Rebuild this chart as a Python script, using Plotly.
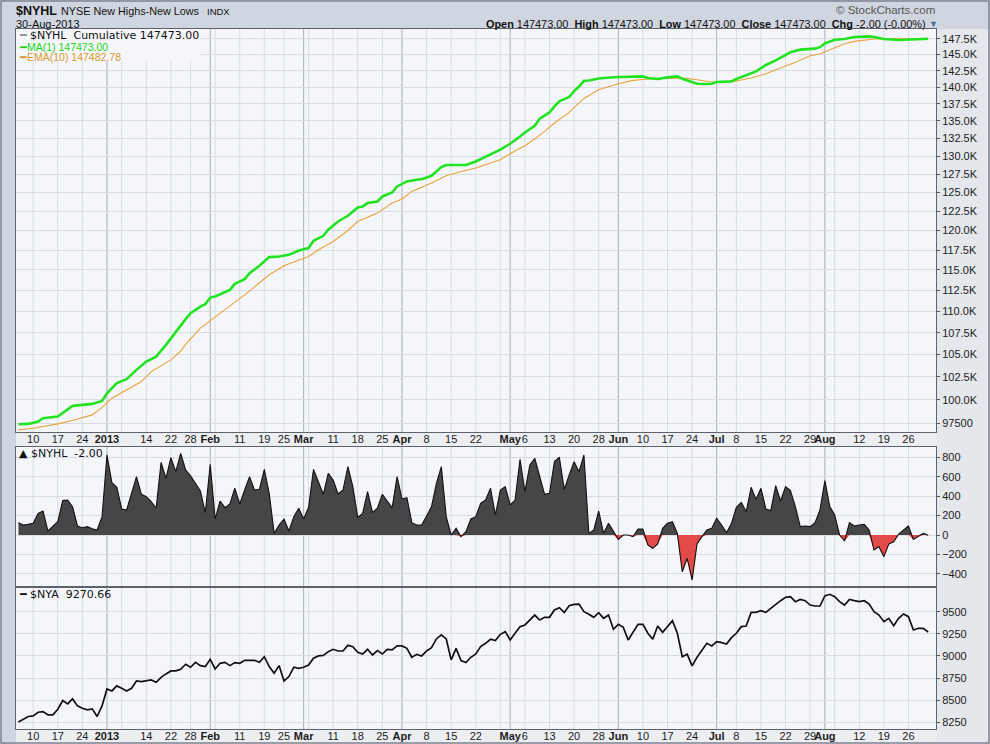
import pandas as pd
import plotly.graph_objects as go
from plotly.subplots import make_subplots

# trading days shown on the chart (NYSE holidays removed)
holidays = ["2012-12-25", "2013-01-01", "2013-01-21", "2013-02-18",
            "2013-03-29", "2013-05-27", "2013-07-04"]
days = [d.strftime("%Y-%m-%d") for d in pd.bdate_range("2012-12-05", "2013-08-30")
        if d.strftime("%Y-%m-%d") not in holidays]

# panel 2: daily new highs - new lows
nyhl_daily = [
    127, 103, 110, 120, 223, 247, 41, 86, 137, 354, 360, 292, 93, 75, 86, 65, 51, 189,
    824, 539, 491, 268, 257, 429, 600, 419, 395, 343, 275, 748, 584, 797, 652, 841, 670, 608, 532, 453, 230,
    728, 165, 350, 281, 319, 481, 319, 463, 600, 463, 470, 676, 429, 17, 103, 165, 41, 189, 275,
    165, 285, 676, 549, 419, 635, 566, 422, 463, 704, 498, 182, 223, 446, 233, 275, 419, 350, 281, 600,
    371, 384, 127, 103, 103, 196, 292, 532, 704, 189, 0, 69, -17, 34, 165, 189, 326, 360, 481, 206, 463, 498,
    309, 360, 779, 446, 721, 790, 601, 419, 429, 755, 800, 470, 618, 755, 652, 824, 17, 51, 247, 17, 120, 34,
    -45, 0, 0, -17, 62, 62, -103, -137, -93, 69, 120, 137, 17, -378, -240, -463, -93, -17, 51, 69,
    172, 103, 24, 120, 285, 336, 240, 491, 367, 481, 268, 251, 508, 350, 498, 457, 292, 86, 93, 86, 127, 257,
    560, 292, 206, 0, -62, 127, 93, 103, 110, 51, -154, -120, -223, -93, -69, 10, 51, 93, -45, -17, 17, -2,
]

# panel 3: NYSE Composite close
nya_close = [
    8255, 8286, 8316, 8323, 8364, 8372, 8334, 8334, 8398, 8496, 8458, 8515, 8436, 8410, 8391, 8402, 8316, 8436,
    8628, 8605, 8662, 8635, 8605, 8635, 8718, 8710, 8722, 8729, 8703, 8759, 8797, 8831, 8831, 8850, 8906, 8872, 8928, 8891, 8880,
    8962, 8853, 8917, 8928, 8891, 8925, 8917, 8951, 8951, 8951, 8928, 8992, 8880, 8804, 8891, 8718, 8767, 8872, 8861,
    8872, 8898, 8974, 9000, 9007, 9049, 9075, 9056, 9056, 9120, 9105, 9041, 9022, 9075, 9011, 9060, 9022, 9075, 9068, 9113,
    9113, 9086, 8985, 9018, 9000, 9056, 9094, 9192, 9237, 9192, 8955, 9086, 8947, 8925, 8985, 9022, 9105, 9143, 9188, 9173, 9244, 9274,
    9180, 9256, 9331, 9350, 9406, 9462, 9406, 9436, 9436, 9519, 9545, 9492, 9568, 9583, 9586, 9500, 9470, 9436, 9489, 9425, 9462, 9301,
    9357, 9323, 9180, 9274, 9357, 9357, 9256, 9188, 9338, 9267, 9331, 9398, 9256, 8992, 9019, 8887, 8985, 9060, 9143, 9113,
    9162, 9150, 9135, 9207, 9256, 9331, 9338, 9492, 9492, 9511, 9492, 9538, 9586, 9624, 9662, 9669, 9613, 9639, 9624, 9575, 9564, 9564,
    9677, 9696, 9669, 9613, 9575, 9639, 9624, 9613, 9624, 9586, 9500, 9462, 9387, 9425, 9342, 9425, 9474, 9444, 9293, 9312, 9312, 9271,
]

# panel 1: cumulative line (green, MA(1)) read at these dates
cum_dates = [
    "2012-12-05", "2012-12-07", "2012-12-11", "2012-12-12", "2012-12-17", "2012-12-20", "2012-12-27", "2012-12-31",
    "2013-01-02", "2013-01-04", "2013-01-08", "2013-01-10", "2013-01-14", "2013-01-16", "2013-01-18", "2013-01-23",
    "2013-01-25", "2013-01-28", "2013-01-30", "2013-01-31", "2013-02-01", "2013-02-04", "2013-02-07", "2013-02-08",
    "2013-02-12", "2013-02-13", "2013-02-15", "2013-02-20", "2013-02-22", "2013-02-26", "2013-02-28", "2013-03-04",
    "2013-03-05", "2013-03-07", "2013-03-08", "2013-03-12", "2013-03-14", "2013-03-18", "2013-03-19", "2013-03-20",
    "2013-03-22", "2013-03-25", "2013-03-27", "2013-03-28", "2013-04-02", "2013-04-04", "2013-04-05", "2013-04-09",
    "2013-04-11", "2013-04-12", "2013-04-18", "2013-04-22", "2013-04-25", "2013-04-29", "2013-05-01", "2013-05-02",
    "2013-05-03", "2013-05-06", "2013-05-08", "2013-05-09", "2013-05-13", "2013-05-14", "2013-05-15", "2013-05-17",
    "2013-05-20", "2013-05-21", "2013-05-22", "2013-05-23", "2013-05-28", "2013-05-31", "2013-06-04", "2013-06-07",
    "2013-06-10", "2013-06-11", "2013-06-13", "2013-06-17", "2013-06-19", "2013-06-20", "2013-06-21", "2013-06-25",
    "2013-06-27", "2013-06-28", "2013-07-01", "2013-07-05", "2013-07-08", "2013-07-10", "2013-07-12", "2013-07-15",
    "2013-07-16", "2013-07-18", "2013-07-22", "2013-07-23", "2013-07-25", "2013-07-30", "2013-07-31", "2013-08-01",
    "2013-08-05", "2013-08-07", "2013-08-09", "2013-08-14", "2013-08-15", "2013-08-19", "2013-08-22", "2013-08-26",
    "2013-08-30",
]
cum_values = [
    97420, 97450, 97690, 98050, 98220, 99360, 99570, 99890,
    100720, 101815, 102254, 103284, 104208, 104769, 106100, 107628,
    109073, 109772, 110563, 110850, 111640, 111760, 112569, 113301,
    113872, 114614, 115516, 116604, 116680, 116892, 117438, 117740,
    118668, 119310, 120082, 121160, 121910, 123001, 123134, 123585,
    123799, 124466, 125003, 125815, 126495, 126726, 126812, 127273,
    128471, 128749, 128749, 129240, 130181, 130884, 131731, 132196,
    132770, 133344, 134307, 135324, 136247, 137128, 137869, 138524,
    139400, 140100, 140950, 141000, 141300, 141500, 141540, 141540,
    141631, 141393, 141234, 141479, 141631, 141279, 141022, 140524,
    140480, 140524, 140780, 140871, 141234, 141785, 142400, 142900,
    143375, 144093, 144900, 145350, 145762, 145919, 146150, 146750,
    147339, 147451, 147767, 147862, 147767, 147451, 147292, 147390,
    147473,
]

# panel 1: EMA(10) line (orange)
ema_dates = [
    "2012-12-05", "2012-12-10", "2012-12-17", "2012-12-20", "2012-12-27", "2012-12-31", "2013-01-03", "2013-01-08",
    "2013-01-11", "2013-01-15", "2013-01-22", "2013-01-24", "2013-01-25", "2013-01-30", "2013-02-04", "2013-02-06",
    "2013-02-12", "2013-02-14", "2013-02-20", "2013-02-25", "2013-03-04", "2013-03-06", "2013-03-11", "2013-03-14",
    "2013-03-18", "2013-03-22", "2013-03-27", "2013-04-01", "2013-04-03", "2013-04-09", "2013-04-12", "2013-04-17",
    "2013-04-22", "2013-04-25", "2013-04-29", "2013-05-01", "2013-05-02", "2013-05-06", "2013-05-08", "2013-05-10",
    "2013-05-14", "2013-05-17", "2013-05-22", "2013-05-28", "2013-06-03", "2013-06-06", "2013-06-11", "2013-06-17",
    "2013-06-21", "2013-06-25", "2013-06-28", "2013-07-05", "2013-07-09", "2013-07-11", "2013-07-16", "2013-07-19",
    "2013-07-24", "2013-07-29", "2013-07-31", "2013-08-02", "2013-08-07", "2013-08-09", "2013-08-15", "2013-08-20",
    "2013-08-30",
]
ema_values = [
    96820, 97000, 97450, 97800, 98400, 99200, 100183, 101082,
    101990, 103093, 104399, 105400, 106150, 108025, 109380, 110200,
    111964, 112967, 114403, 115516, 116680, 117524, 118578, 119995,
    121160, 122260, 123585, 124126, 125144, 126277, 127273, 127864,
    128333, 129026, 129485, 130323, 130745, 131449, 132399, 133487,
    134702, 136247, 138314, 139616, 140524, 141022, 141234, 141388,
    141325, 141130, 140780, 140780, 141130, 141393, 142045, 142921,
    143784, 144825, 145089, 145762, 146706, 147069, 147451, 147500,
    147483,
]

# x-axis weekly ticks and their labels
tick_dates = [
    "2012-12-10", "2012-12-17", "2012-12-24", "2013-01-02", "2013-01-07", "2013-01-14", "2013-01-22", "2013-01-28",
    "2013-02-01", "2013-02-04", "2013-02-11", "2013-02-19", "2013-02-25", "2013-03-01", "2013-03-04", "2013-03-11",
    "2013-03-18", "2013-03-25", "2013-04-01", "2013-04-08", "2013-04-15", "2013-04-22", "2013-04-29", "2013-05-01",
    "2013-05-06", "2013-05-13", "2013-05-20", "2013-05-28", "2013-06-03", "2013-06-10", "2013-06-17", "2013-06-24",
    "2013-07-01", "2013-07-08", "2013-07-15", "2013-07-22", "2013-07-29", "2013-08-01", "2013-08-05", "2013-08-12",
    "2013-08-19", "2013-08-26",
]
tick_labels = [
    "10", "17", "24", "<b>2013</b>", "", "14", "22", "28",
    "<b>Feb</b>", "", "11", "19", "25", "<b>Mar</b>", "", "11",
    "18", "25", "<b>Apr</b>", "8", "15", "22", "", "<b>May</b>",
    "6", "13", "20", "28", "<b>Jun</b>", "10", "17", "24",
    "<b>Jul</b>", "8", "15", "22", "29", "<b>Aug</b>", "", "12",
    "19", "26",
]
month_dates = ["2013-01-02", "2013-02-01", "2013-03-01", "2013-04-01",
               "2013-05-01", "2013-06-03", "2013-07-01", "2013-08-01"]

cum_ticks = [97500, 100000, 102500, 105000, 107500, 110000, 112500, 115000, 117500, 120000,
             122500, 125000, 127500, 130000, 132500, 135000, 137500, 140000, 142500, 145000, 147500]
cum_tick_labels = ["97500", "100.0K", "102.5K", "105.0K", "107.5K", "110.0K", "112.5K", "115.0K",
                   "117.5K", "120.0K", "122.5K", "125.0K", "127.5K", "130.0K", "132.5K", "135.0K",
                   "137.5K", "140.0K", "142.5K", "145.0K", "147.5K"]
nyhl_ticks = [-400, -200, 0, 200, 400, 600, 800]
nya_ticks = [8250, 8500, 8750, 9000, 9250, 9500]

PLOT_BG = "#f5f6fa"
GRID = "#d9dce3"
MONTH = "#a9adb6"
BORDER = "#5d626c"
PAGE = "#d0d6e0"
TICK_FONT = dict(family="Liberation Sans, Arial, sans-serif", size=11, color="#1c1c1c")

W, H = 990, 744
ML, MR, MT, MB = 16, 54, 29, 15


def px(x, y):
    # pixel position -> paper coordinates
    return (x - ML) / (W - ML - MR), (H - MB - y) / (H - MT - MB)


fig = make_subplots(rows=3, cols=1, shared_xaxes=True)

fig.add_trace(go.Scatter(x=ema_dates, y=ema_values, mode="lines",
                         line=dict(color="#e8a33a", width=1.1)), row=1, col=1)
fig.add_trace(go.Scatter(x=cum_dates, y=cum_values, mode="lines",
                         line=dict(color="#22e322", width=2.6)), row=1, col=1)

neg_part = [min(v, 0) for v in nyhl_daily]
fig.add_trace(go.Scatter(x=days, y=nyhl_daily, mode="lines", fill="tozeroy",
                         fillcolor="#464646", line=dict(width=0)), row=2, col=1)
fig.add_trace(go.Scatter(x=days, y=neg_part, mode="lines", fill="tozeroy",
                         fillcolor="#e24a4a", line=dict(width=0)), row=2, col=1)
fig.add_trace(go.Scatter(x=days, y=nyhl_daily, mode="lines",
                         line=dict(color="#111111", width=1.1)), row=2, col=1)

fig.add_trace(go.Scatter(x=days, y=nya_close, mode="lines",
                         line=dict(color="#111111", width=1.7)), row=3, col=1)

xcommon = dict(type="category", categoryorder="array", categoryarray=days,
               range=[-0.5, len(days) + 0.6], tickvals=tick_dates, ticktext=tick_labels,
               showgrid=False, ticks="", automargin=False, ticklabelstandoff=-3,
               showline=True, linecolor=BORDER, linewidth=1, mirror=True,
               tickfont=TICK_FONT, tickangle=0)
fig.update_xaxes(**xcommon)
fig.update_layout(xaxis=dict(showticklabels=True), xaxis2=dict(showticklabels=False),
                  xaxis3=dict(showticklabels=True))

ycommon = dict(side="right", showgrid=True, gridcolor=GRID, zeroline=False, automargin=False,
               showline=True, linecolor=BORDER, linewidth=1, mirror=True,
               ticks="outside", ticklen=3, tickcolor="#555555", tickfont=TICK_FONT)
fig.update_yaxes(**ycommon)
fig.update_layout(
    yaxis=dict(domain=[0.4243, 1.0], type="log", range=[4.985, 5.1733],
               tickvals=cum_ticks, ticktext=cum_tick_labels),
    yaxis2=dict(domain=[0.2029, 0.4033], range=[-535, 909], tickvals=nyhl_ticks),
    yaxis3=dict(domain=[0.0, 0.2029], range=[8175, 9779], tickvals=nya_ticks),
)

shapes = []
# light strips behind the date labels and the right-hand scale
x0p, _ = px(16, 0)
x1p, _ = px(936, 0)
xr, _ = px(990, 0)
_, s1 = px(0, 432)
_, s2 = px(0, 446.7)
_, b1 = px(0, 729)
_, b2 = px(0, 744)
_, top = px(0, 29)
for y0, y1 in ((s2, s1), (b2, b1)):
    shapes.append(dict(type="rect", xref="paper", yref="paper", x0=x0p, x1=x1p, y0=y0, y1=y1,
                       fillcolor="#eceef2", line=dict(width=0), layer="below"))
shapes.append(dict(type="rect", xref="paper", yref="paper", x0=x1p, x1=xr, y0=b2, y1=top,
                   fillcolor="#e4e7ec", line=dict(width=0), layer="below"))

# vertical grid: weekly lines light, month starts darker
for xa, ya in (("x", "y"), ("x2", "y2"), ("x3", "y3")):
    for d in tick_dates:
        c = MONTH if d in month_dates else GRID
        shapes.append(dict(type="line", xref=xa, yref=ya + " domain", x0=d, x1=d, y0=0, y1=1,
                           line=dict(color=c, width=1), layer="below"))

# opaque box behind the top legend
lx0, ly0 = px(16.5, 61)
lx1, ly1 = px(201, 29.5)
shapes.append(dict(type="rect", xref="paper", yref="paper", x0=lx0, x1=lx1, y0=ly0, y1=ly1,
                   fillcolor=PLOT_BG, line=dict(width=0), layer="above"))

# thin frame around the whole picture
fx0, fy0 = px(1, 743)
fx1, fy1 = px(989, 1)
shapes.append(dict(type="rect", xref="paper", yref="paper", x0=fx0, x1=fx1, y0=fy0, y1=fy1,
                   fillcolor="rgba(0,0,0,0)", line=dict(color="#7d8390", width=1.5), layer="below"))

SANS = "Liberation Sans, Arial, sans-serif"
VERD = "DejaVu Sans, Verdana, sans-serif"
annotations = []


def note(x, y, text, size=11, color="#111111", family=SANS, anchor="left"):
    xp, yp = px(x, y)
    annotations.append(dict(xref="paper", yref="paper", x=xp, y=yp, text=text, showarrow=False,
                            xanchor=anchor, yanchor="middle", borderpad=0,
                            font=dict(family=family, size=size, color=color)))


# header
note(15, 11, "<b>$NYHL</b>", size=12.5)
note(60, 11, "NYSE New Highs-New Lows", size=10.8)
note(206, 11.5, "INDX", size=9.5)
note(15, 23.5, "30-Aug-2013", size=11)
note(936, 10, "© StockCharts.com", size=11.5, color="#555555", anchor="right")
note(927, 23.5, "<b>Open</b> 147473.00  <b>High</b> 147473.00  <b>Low</b> 147473.00  "
                "<b>Close</b> 147473.00  <b>Chg</b> -2.00 (-0.00%)", size=10.9, anchor="right")
note(928, 24, "▼", size=9, color="#4d6a9c")

# in-panel legends
note(18, 35.7, "<span style='color:#8a8f99'>━</span> $NYHL  Cumulative 147473.00",
     size=11, family=VERD)
note(18, 47.3, "━MA(1) 147473.00", size=10.5, color="#18d818")
note(18, 57.3, "━EMA(10) 147482.78", size=10.5, color="#d9982a")
note(18, 453.3, "▲ $NYHL  -2.00", size=11, family=VERD)
note(18, 594.3, "━ $NYA  9270.66", size=11, family=VERD)

fig.update_layout(
    width=W, height=H,
    margin=dict(l=ML, r=MR, t=MT, b=MB, autoexpand=False),
    paper_bgcolor=PAGE,
    plot_bgcolor=PLOT_BG,
    showlegend=False,
    shapes=shapes,
    annotations=annotations,
)

# the page has an 8px body margin; drop it so the figure sits at 0,0
fig.write_html("out.html",
               config={"displayModeBar": False, "responsive": False},
               post_script="document.body.style.margin='0px';"
                           "document.body.style.overflow='hidden';")
